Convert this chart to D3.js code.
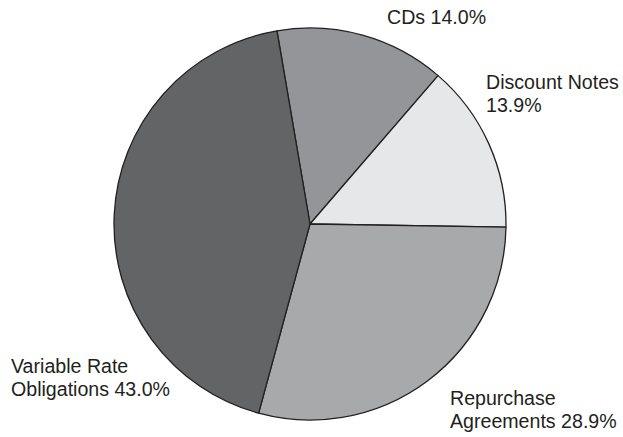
<!DOCTYPE html>
<html>
<head>
<meta charset="utf-8">
<script src="https://cdn.jsdelivr.net/npm/d3@7"></script>
<style>
  html, body { margin: 0; padding: 0; background: #fff; }
  svg { display: block; }
  text { font-family: "Liberation Sans", Arial, Helvetica, sans-serif; fill: #231f20; }
</style>
</head>
<body>
<svg id="chart" width="623" height="437"></svg>
<script>
// Portfolio composition by instrument type
const categories = ["CDs", "Discount Notes", "Repurchase Agreements", "Variable Rate Obligations"];
const shares = [14.0, 13.9, 28.9, 43.0];
const labelLines = [
  ["CDs 14.0%"],
  ["Discount Notes", "13.9%"],
  ["Repurchase", "Agreements 28.9%"],
  ["Variable Rate", "Obligations 43.0%"]
];
const fills = ["#949598", "#e6e7e8", "#a8a9ab", "#636466"];

const width = 623, height = 437;
const cx = 310, cy = 224, radius = 196;
const startAngle = -9.7 * Math.PI / 180;

// Label anchors (left edge, first baseline) relative to the pie centre
const labelPos = {
  "CDs": [77, -200],
  "Discount Notes": [176, -135],
  "Repurchase Agreements": [140, 181],
  "Variable Rate Obligations": [-299, 149]
};
const lineHeight = 22.5;

const data = categories.map((c, i) => ({ category: c, value: shares[i], lines: labelLines[i], fill: fills[i] }));

const pie = d3.pie()
  .value(d => d.value)
  .sort(null)
  .startAngle(startAngle)
  .endAngle(startAngle + 2 * Math.PI);

const arc = d3.arc().innerRadius(0).outerRadius(radius);

const svg = d3.select("#chart");
const g = svg.append("g").attr("transform", `translate(${cx},${cy})`);

g.selectAll("path.slice")
  .data(pie(data))
  .join("path")
  .attr("class", "slice")
  .attr("d", arc)
  .attr("fill", d => d.data.fill)
  .attr("stroke", "#231f20")
  .attr("stroke-width", 1.3)
  .attr("stroke-linejoin", "round");

const labels = g.selectAll("text.label")
  .data(data)
  .join("text")
  .attr("class", "label")
  .attr("x", d => labelPos[d.category][0])
  .attr("y", d => labelPos[d.category][1])
  .attr("font-size", "19.6px");

labels.selectAll("tspan")
  .data(d => d.lines.map((t, i) => ({ t, i, x: labelPos[d.category][0] })))
  .join("tspan")
  .attr("x", d => d.x)
  .attr("dy", d => d.i === 0 ? 0 : lineHeight)
  .text(d => d.t);
</script>
</body>
</html>
